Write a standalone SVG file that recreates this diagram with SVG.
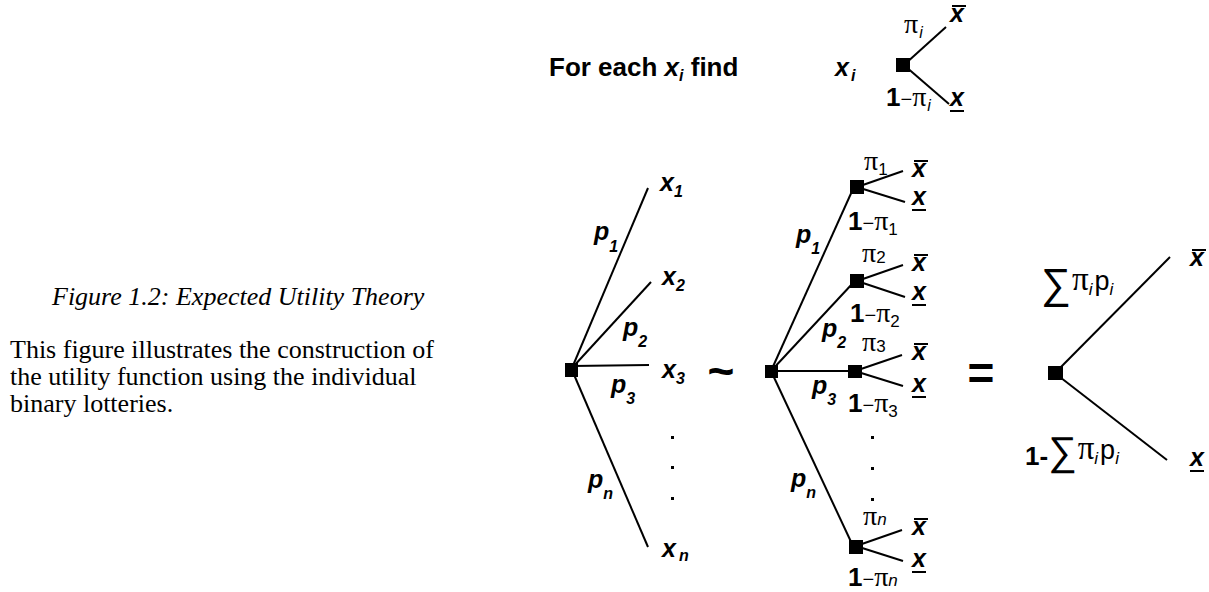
<svg xmlns="http://www.w3.org/2000/svg" width="1209" height="592" viewBox="0 0 1209 592">
<style>
text{fill:#000}
.s{font-family:"Liberation Sans",Arial,sans-serif;font-weight:bold;font-size:26px}
.bi{font-family:"Liberation Sans",Arial,sans-serif;font-weight:bold;font-style:italic;font-size:25px}
.sb{font-family:"Liberation Sans",Arial,sans-serif;font-weight:bold;font-size:16px}
.si{font-family:"Liberation Sans",Arial,sans-serif;font-weight:bold;font-style:italic;font-size:16px}
.ri{font-family:"Liberation Sans",Arial,sans-serif;font-style:italic;font-size:16px}
.pi{font-family:"Liberation Serif","Times New Roman",serif;font-size:28px}
.r{font-family:"Liberation Sans",Arial,sans-serif;font-size:20px}
.rs{font-family:"Liberation Sans",Arial,sans-serif;font-size:17px}
.cap{font-family:"Liberation Serif","Times New Roman",serif;font-size:26px;font-style:italic}
.body{font-family:"Liberation Serif","Times New Roman",serif;font-size:26px}
.ln{stroke:#000;stroke-width:2;fill:none}
.bar{stroke:#000;stroke-width:2}
.sq{fill:#000}
</style>

<g id="caption">
<text class="cap" x="52" y="305">Figure 1.2: Expected Utility Theory</text>
<text class="body" x="10" y="358">This figure illustrates the construction of</text>
<text class="body" x="10" y="385">the utility function using the individual</text>
<text class="body" x="10" y="412">binary lotteries.</text>
</g>

<g id="connectors">
<line class="ln" x1="905" y1="64" x2="946" y2="27"/>
<line class="ln" x1="905" y1="66" x2="949" y2="104"/>
<line class="ln" x1="572" y1="368" x2="648" y2="188"/>
<line class="ln" x1="572" y1="368" x2="651" y2="282"/>
<line class="ln" x1="572" y1="366" x2="649" y2="365"/>
<line class="ln" x1="572" y1="370" x2="648" y2="547"/>
<line class="ln" x1="771" y1="371" x2="853" y2="189"/>
<line class="ln" x1="771" y1="371" x2="853" y2="283"/>
<line class="ln" x1="771" y1="371" x2="852" y2="371"/>
<line class="ln" x1="771" y1="371" x2="853" y2="546"/>
<line class="ln" x1="860" y1="186" x2="903" y2="171"/>
<line class="ln" x1="860" y1="188" x2="905" y2="202"/>
<line class="ln" x1="860" y1="280" x2="903" y2="265"/>
<line class="ln" x1="860" y1="282" x2="905" y2="297"/>
<line class="ln" x1="858" y1="370" x2="902" y2="355"/>
<line class="ln" x1="858" y1="372" x2="903" y2="386"/>
<line class="ln" x1="859" y1="545" x2="902" y2="530"/>
<line class="ln" x1="859" y1="547" x2="903" y2="561"/>
<line class="ln" x1="1056" y1="372" x2="1170" y2="257"/>
<line class="ln" x1="1056" y1="374" x2="1167" y2="460"/>
</g>

<g id="header">
<text class="s" x="549" y="76">For each <tspan class="bi" style="font-size:26px">x</tspan><tspan class="ri" dy="5">i</tspan><tspan dy="-5"> find</tspan></text>
</g>

<g id="top-lottery">
<rect class="sq" x="896" y="58" width="14" height="14"/>
<text class="bi" x="835" y="76">x<tspan class="ri" dx="2" dy="5">i</tspan></text>
<text class="pi" x="904" y="33">π<tspan class="ri" dx="1" dy="5">i</tspan></text>
<text class="bi" x="950" y="22">x</text><line class="bar" x1="952" y1="6" x2="966" y2="6"/>
<text x="886" y="106"><tspan class="s">1</tspan><tspan class="r">−</tspan><tspan class="pi">π</tspan><tspan class="ri" dx="1" dy="5">i</tspan></text>
<text class="bi" x="950" y="106">x</text><line class="bar" x1="950" y1="111" x2="964" y2="111"/>
</g>

<g id="left-root">
<rect class="sq" x="565" y="363" width="13" height="14"/>
<text class="bi" x="594" y="240">p<tspan class="sb" dy="12">1</tspan></text>
<text class="bi" x="623" y="336">p<tspan class="sb" dy="11">2</tspan></text>
<text class="bi" x="611" y="393">p<tspan class="sb" dy="11">3</tspan></text>
<text class="bi" x="588" y="488">p<tspan class="si" dy="11">n</tspan></text>
</g>
<g id="left-x1"><text class="bi" x="660" y="191">x<tspan class="sb" dy="6">1</tspan></text></g>
<g id="left-x2"><text class="bi" x="662" y="285">x<tspan class="sb" dy="6">2</tspan></text></g>
<g id="left-x3"><text class="bi" x="662" y="378">x<tspan class="sb" dy="6">3</tspan></text></g>
<g id="left-dots"><rect x="671" y="436" width="3" height="3"/><rect x="671" y="466" width="3" height="3"/><rect x="671" y="497" width="3" height="3"/></g>
<g id="left-xn"><text class="bi" x="662" y="557">x<tspan class="si" dx="3" dy="4">n</tspan></text></g>

<g id="tilde"><text class="s" x="721" y="387" style="font-size:46px" text-anchor="middle">~</text></g>

<g id="mid-root">
<rect class="sq" x="765" y="365" width="13" height="13"/>
<text class="bi" x="796" y="243">p<tspan class="sb" dy="11">1</tspan></text>
<text class="bi" x="822" y="337">p<tspan class="sb" dy="11">2</tspan></text>
<text class="bi" x="812" y="394">p<tspan class="sb" dy="11">3</tspan></text>
<text class="bi" x="791" y="487">p<tspan class="si" dy="11">n</tspan></text>
</g>

<g id="mid-node1">
<rect class="sq" x="850" y="180" width="14" height="14"/>
<text x="864" y="170"><tspan class="pi">π</tspan><tspan class="rs" dy="5">1</tspan></text>
<text class="bi" x="912" y="177">x</text><line class="bar" x1="914" y1="161" x2="928" y2="161"/>
<text class="bi" x="912" y="205">x</text><line class="bar" x1="912" y1="210" x2="926" y2="210"/>
<text x="848" y="230"><tspan class="s">1</tspan><tspan class="r">−</tspan><tspan class="pi">π</tspan><tspan class="rs" dy="5">1</tspan></text>
</g>
<g id="mid-node2">
<rect class="sq" x="850" y="274" width="14" height="14"/>
<text x="862" y="262"><tspan class="pi">π</tspan><tspan class="rs" dy="1">2</tspan></text>
<text class="bi" x="912" y="271">x</text><line class="bar" x1="914" y1="255" x2="928" y2="255"/>
<text class="bi" x="912" y="300">x</text><line class="bar" x1="912" y1="305" x2="926" y2="305"/>
<text x="850" y="322"><tspan class="s">1</tspan><tspan class="r">−</tspan><tspan class="pi">π</tspan><tspan class="rs" dy="5">2</tspan></text>
</g>
<g id="mid-node3">
<rect class="sq" x="848" y="365" width="14" height="13"/>
<text x="862" y="351"><tspan class="pi">π</tspan><tspan class="rs" dy="1">3</tspan></text>
<text class="bi" x="912" y="360">x</text><line class="bar" x1="914" y1="344" x2="928" y2="344"/>
<text class="bi" x="912" y="392">x</text><line class="bar" x1="912" y1="397" x2="926" y2="397"/>
<text x="848" y="412"><tspan class="s">1</tspan><tspan class="r">−</tspan><tspan class="pi">π</tspan><tspan class="rs" dy="5">3</tspan></text>
</g>
<g id="mid-dots"><rect x="871" y="436" width="3" height="3"/><rect x="871" y="467" width="3" height="3"/><rect x="871" y="498" width="3" height="3"/></g>
<g id="mid-noden">
<rect class="sq" x="849" y="540" width="14" height="14"/>
<text x="863" y="525"><tspan class="pi">π</tspan><tspan class="rs" style="font-style:italic">n</tspan></text>
<text class="bi" x="912" y="535">x</text><line class="bar" x1="914" y1="519" x2="928" y2="519"/>
<text class="bi" x="912" y="567">x</text><line class="bar" x1="912" y1="572" x2="926" y2="572"/>
<text x="848" y="586"><tspan class="s">1</tspan><tspan class="r">−</tspan><tspan class="pi">π</tspan><tspan class="rs" style="font-style:italic">n</tspan></text>
</g>

<g id="equals"><text class="s" x="981" y="389" style="font-size:46px" text-anchor="middle">=</text></g>

<g id="right-root">
<rect class="sq" x="1048" y="366" width="15" height="14"/>
<text x="1041" y="298"><tspan class="s" style="font-size:42px;font-weight:normal">∑</tspan><tspan class="pi" style="font-size:33px" dx="1" dy="-8">π</tspan><tspan class="ri" style="font-size:17px" dy="5">i</tspan><tspan class="r" style="font-size:27px" dx="2" dy="-5">p</tspan><tspan class="ri" style="font-size:17px" dy="5">i</tspan></text>
<text x="1025" y="465"><tspan class="s">1-</tspan><tspan class="s" style="font-size:40px;font-weight:normal">∑</tspan><tspan class="pi" style="font-size:33px" dx="1" dy="-6">π</tspan><tspan class="ri" style="font-size:17px" dy="5">i</tspan><tspan class="r" style="font-size:27px" dx="2" dy="-5">p</tspan><tspan class="ri" style="font-size:17px" dy="5">i</tspan></text>
</g>
<g id="right-xbar"><text class="bi" x="1190" y="266">x</text><line class="bar" x1="1192" y1="250" x2="1206" y2="250"/></g>
<g id="right-xunder"><text class="bi" x="1190" y="466">x</text><line class="bar" x1="1190" y1="471" x2="1204" y2="471"/></g>
</svg>
